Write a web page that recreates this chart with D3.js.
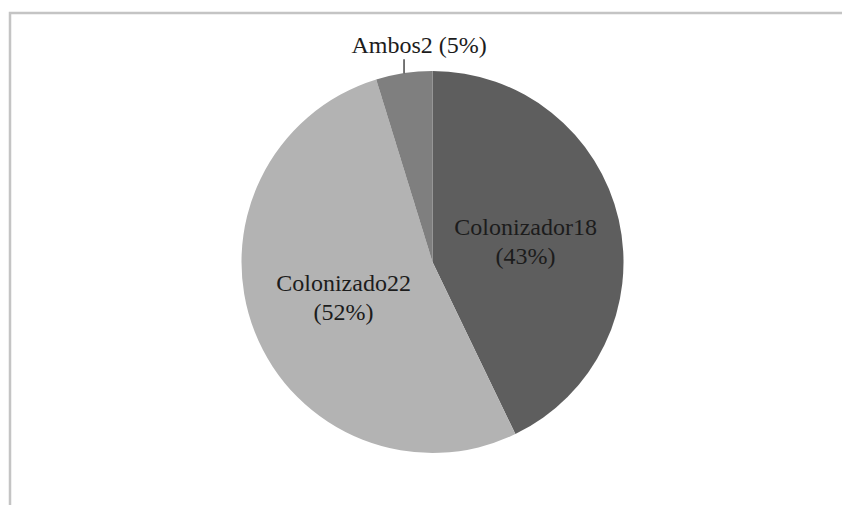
<!DOCTYPE html>
<html lang="es">
<head>
    <meta charset="UTF-8">
    <title>Colonizador / Colonizado / Ambos</title>
    <script src="https://d3js.org/d3.v7.min.js"></script>
    <style>
        body, html { width: 100%; height: 100%; margin: 0; background: #fff; overflow: hidden; }
        svg { display: block; }
        text { font-family: "Liberation Serif", "Times New Roman", serif; font-size: 24px; fill: #1c1c1c; }
    </style>
</head>
<body>
<script>
    // chart data
    const categories = ["Colonizador", "Colonizado", "Ambos"];
    const values = [18, 22, 2];
    const percents = ["43%", "52%", "5%"];
    const colors = ["#5e5e5e", "#b3b3b3", "#7f7f7f"];

    const width = 842, height = 505;
    const cx = 432.5, cy = 262, radius = 191;

    const svg = d3.select("body").append("svg")
        .attr("width", width)
        .attr("height", height);

    // chart frame (cut off at the right and bottom)
    svg.append("rect")
        .attr("x", 10)
        .attr("y", 13)
        .attr("width", width + 20)
        .attr("height", height + 20)
        .attr("fill", "none")
        .attr("stroke", "#c4c4c4")
        .attr("stroke-width", 2.5);

    const data = categories.map((c, i) => ({ name: c, value: values[i], pct: percents[i], color: colors[i] }));

    const pie = d3.pie().sort(null).value(d => d.value);
    const arcs = pie(data);

    const arc = d3.arc().innerRadius(0).outerRadius(radius);

    const g = svg.append("g").attr("transform", `translate(${cx},${cy})`);

    g.selectAll("path")
        .data(arcs)
        .join("path")
        .attr("d", arc)
        .attr("fill", d => d.data.color);

    // inside labels for the two big slices
    const inside = arcs.filter(d => d.data.value > 5);
    const lbl = g.selectAll("text.inside")
        .data(inside)
        .join("text")
        .attr("class", "inside")
        .attr("text-anchor", "middle")
        .attr("transform", d => {
            const [x, y] = arc.centroid(d);
            return `translate(${x},${y})`;
        });
    lbl.append("tspan")
        .attr("x", 0)
        .attr("y", -6)
        .text(d => d.data.name + d.data.value);
    lbl.append("tspan")
        .attr("x", 0)
        .attr("y", 23)
        .text(d => "(" + d.data.pct + ")");

    // outside label with leader for the small slice
    const small = arcs.filter(d => d.data.value <= 5);
    small.forEach(d => {
        const mid = (d.startAngle + d.endAngle) / 2;
        const px = radius * Math.sin(mid);
        const py = -radius * Math.cos(mid);
        g.append("line")
            .attr("x1", px).attr("y1", py)
            .attr("x2", px).attr("y2", py - 14)
            .attr("stroke", "#1c1c1c")
            .attr("stroke-width", 1.2);
        g.append("text")
            .attr("x", px + 15)
            .attr("y", py - 20)
            .attr("text-anchor", "middle")
            .text(d.data.name + d.data.value + " (" + d.data.pct + ")");
    });
</script>
</body>
</html>
